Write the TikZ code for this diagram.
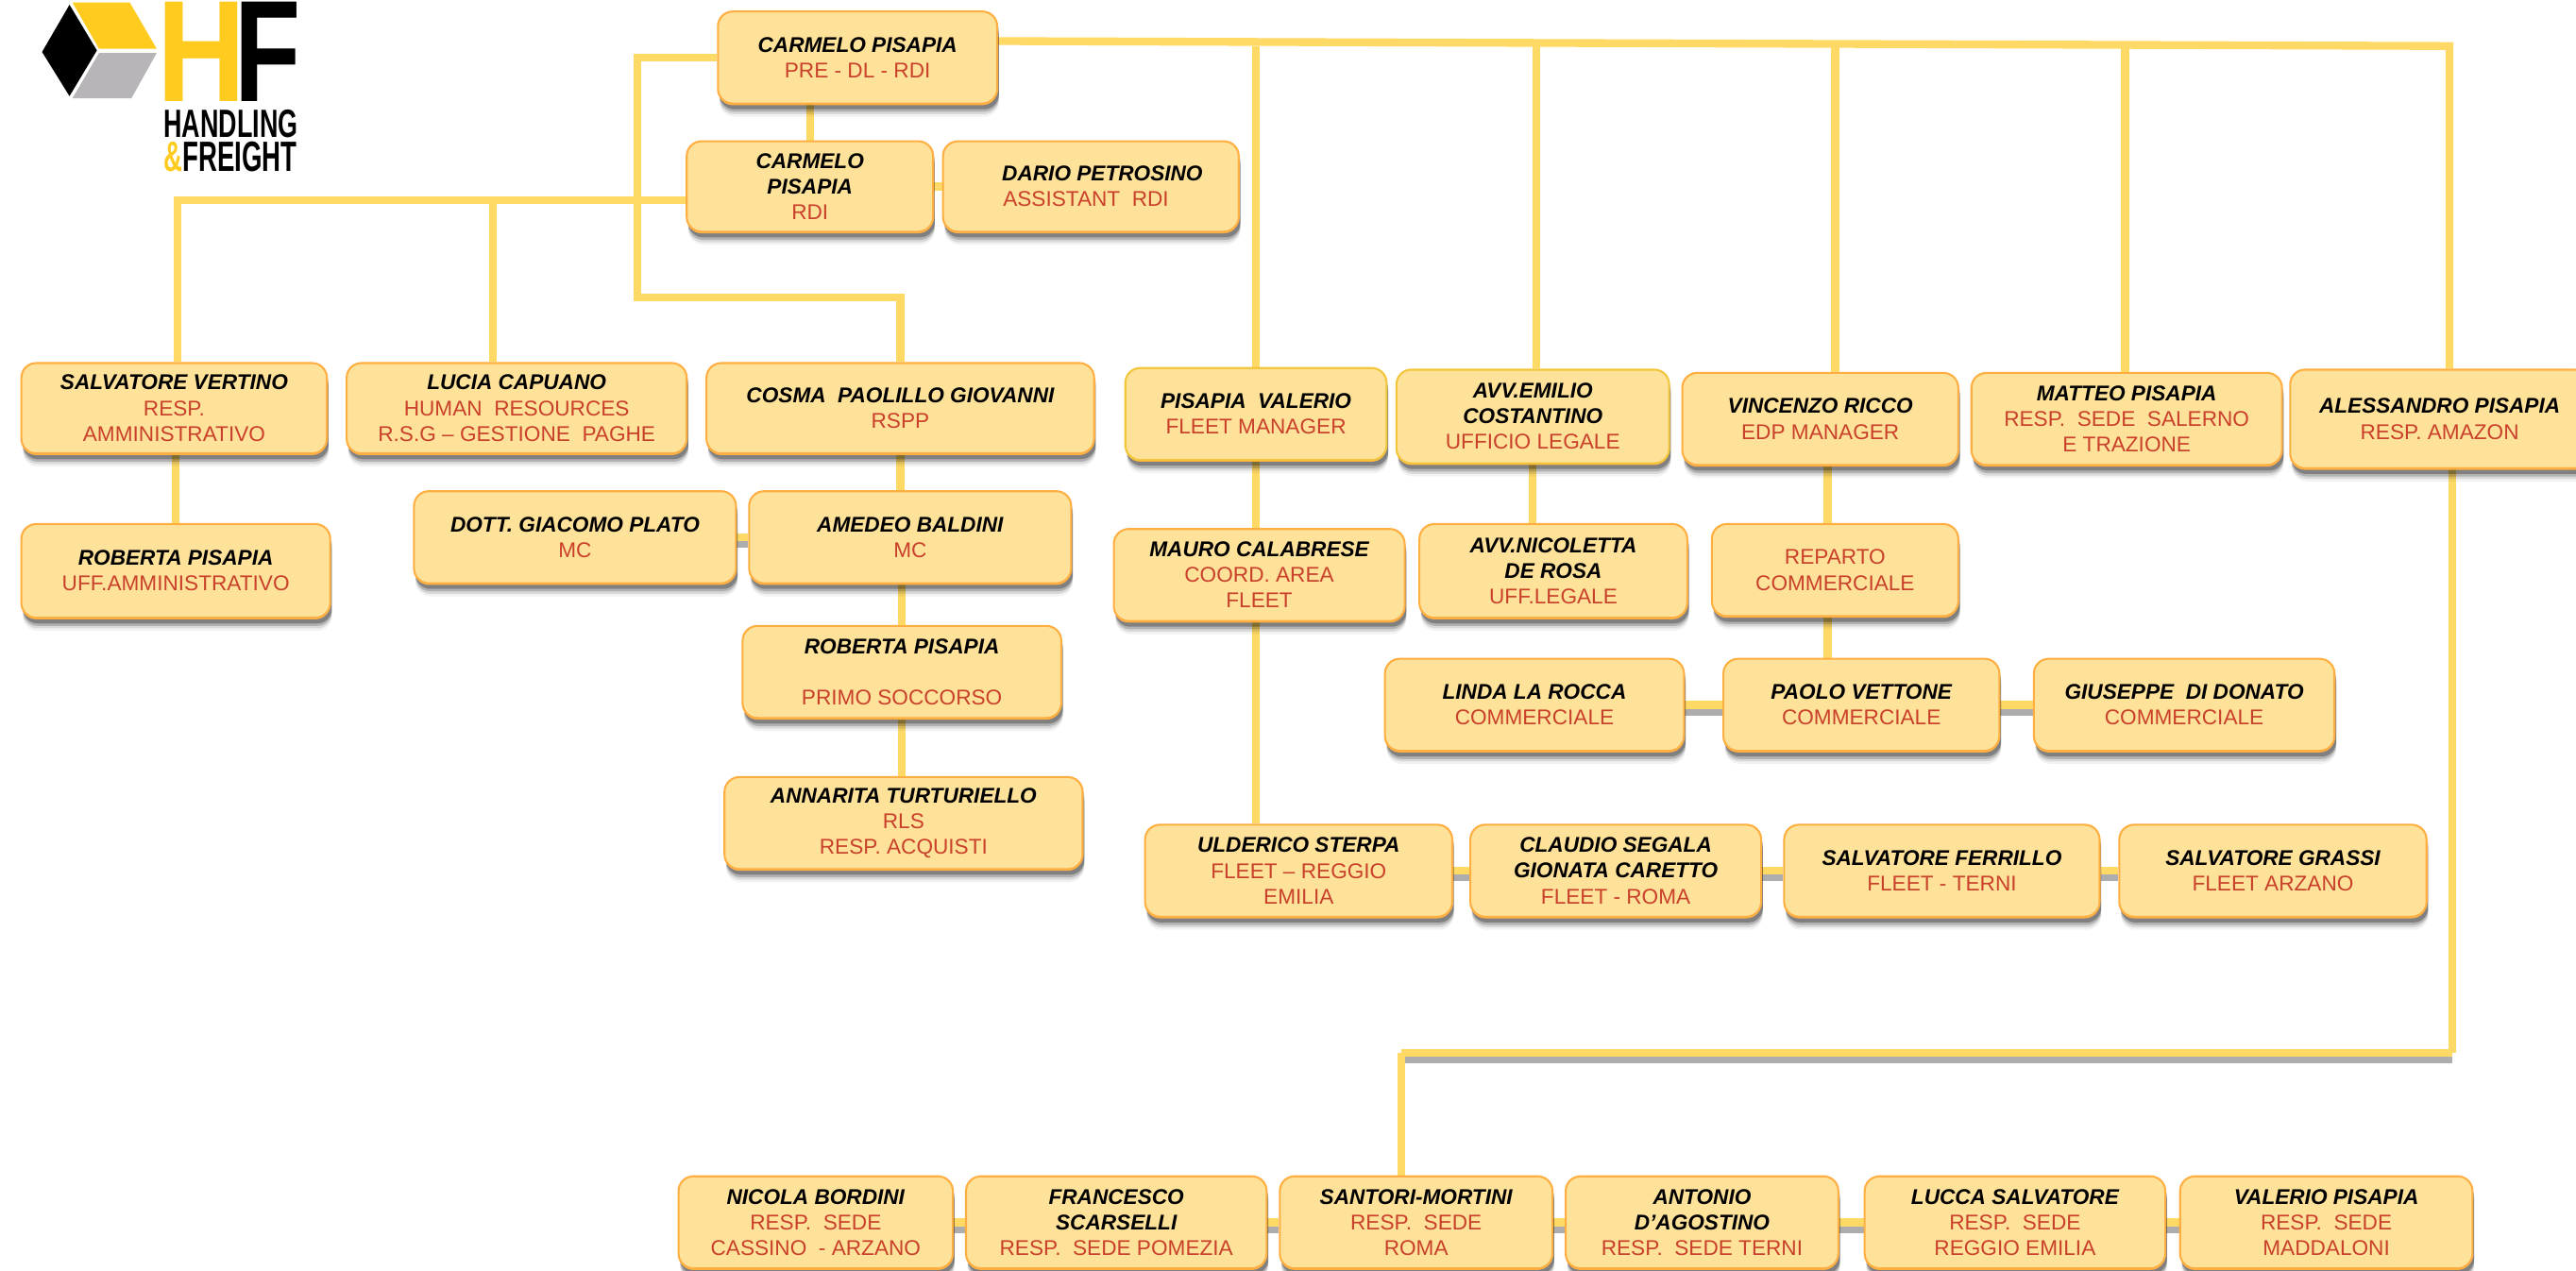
\documentclass[tikz,border=0pt]{standalone}
\usepackage{fontspec}
\usepackage{graphicx}
\setmainfont{Liberation Sans}
\usetikzlibrary{shadows,backgrounds}
\definecolor{boxfill}{HTML}{FFE299}
\definecolor{boxedge}{HTML}{FFAE42}
\definecolor{boxgold}{HTML}{F2C53A}
\definecolor{linkyellow}{HTML}{FFD966}
\definecolor{rolered}{HTML}{C9402B}
\definecolor{logoyellow}{HTML}{FFCB1F}
\definecolor{logogray}{HTML}{B7B5B8}
\newcommand{\who}[1]{{\bfseries\itshape\color{black}#1}}
\tikzset{
  staff/.style={rectangle, rounded corners=9pt, draw=boxedge, line width=1.2pt, fill=boxfill,
    text=rolered, align=center, inner sep=0pt, font=\fontsize{13}{15.6}\selectfont,
    drop shadow={shadow xshift=1pt, shadow yshift=-8pt, fill=black, opacity=0.05},
    drop shadow={shadow xshift=1pt, shadow yshift=-6.5pt, fill=black, opacity=0.10},
    drop shadow={shadow xshift=1pt, shadow yshift=-5pt, fill=black, opacity=0.18},
    drop shadow={shadow xshift=1pt, shadow yshift=-3.5pt, fill=black, opacity=0.28},
    drop shadow={shadow xshift=0pt, shadow yshift=-1pt, fill=boxedge, opacity=1}},
  link/.style={draw=linkyellow, line width=4.8pt},
  linkunder/.style={draw=black!32, line width=4.8pt, transform canvas={yshift=-4pt}},
  logotext/.style={anchor=west, inner sep=0pt}
}
\begin{document}
\begin{tikzpicture}[x=1pt, y=-1pt]
  \useasboundingbox (0,0) rectangle (1568,773.65);

  % The logo
  \fill [black] (25.6,31.6) -- (42.3,2.9) -- (59,30.7) -- (42.3,58.5) -- cycle;
  \fill [logoyellow] (44.1,1.5) -- (79,1.5) -- (95.4,29.7) -- (60.3,29.7) -- cycle;
  \fill [logogray] (60.3,32.2) -- (95.4,32.2) -- (80,59.8) -- (44.1,59.8) -- cycle;
  \node [logotext, text=logoyellow] (logoh) at (95.6,31.4)
    {\scalebox{0.85}[1]{\fontsize{88}{88}\selectfont\bfseries H}};
  \node [logotext] (logof) at (142.6,31.4)
    {\scalebox{0.75}[1]{\fontsize{88}{88}\selectfont\bfseries F}};
  \node [logotext] (logohand) at (99.5,75.6)
    {\scalebox{0.645}[1]{\fontsize{24}{24}\selectfont\bfseries HANDLING}};
  \node [logotext] (logofreight) at (99.5,95.2)
    {\scalebox{0.615}[1]{\fontsize{25.8}{25.8}\selectfont\bfseries\textcolor{logoyellow}{\&}FREIGHT}};

  % All the boxes: name/centre x/centre y/width/height/text
  \foreach \nam/\cx/\cy/\bw/\bh/\lab in {
    cpone/522/35/170/56/{\who{CARMELO PISAPIA}\\PRE - DL - RDI},
    cptwo/493/113.5/150/55/{\who{CARMELO}\\\who{PISAPIA}\\RDI},
    dario/664/113.5/180/55/{\hspace*{14pt}\who{DARIO PETROSINO}\\\hspace*{-6pt}ASSISTANT~~RDI},
    vertino/106/248.5/186/55/{\who{SALVATORE VERTINO}\\RESP.\\AMMINISTRATIVO},
    capuano/314.5/248.5/207/55/{\who{LUCIA CAPUANO}\\HUMAN~~RESOURCES\\R.S.G – GESTIONE~~PAGHE},
    cosma/548/248.5/236/55/{\who{COSMA~~PAOLILLO GIOVANNI}\\RSPP},
    vincenzo/1108/255/168/56/{\who{VINCENZO RICCO}\\EDP MANAGER},
    matteo/1294.5/255/189/56/{\who{MATTEO PISAPIA}\\RESP.~~SEDE~~SALERNO\\E TRAZIONE},
    amazon/1485/255/182/60/{\who{ALESSANDRO PISAPIA}\\RESP. AMAZON},
    robamm/107/347.5/188/57/{\who{ROBERTA PISAPIA}\\UFF.AMMINISTRATIVO},
    plato/350/327/196/56/{\who{DOTT. GIACOMO PLATO}\\MC},
    baldini/554/327/196/56/{\who{AMEDEO BALDINI}\\MC},
    robsoc/549/409/194/56/{\who{ROBERTA PISAPIA}\\~\\PRIMO SOCCORSO},
    turtur/550/501/218/56/{\who{ANNARITA TURTURIELLO}\\RLS\\RESP. ACQUISTI},
    mauro/766.5/350/177/56/{\who{MAURO CALABRESE}\\COORD. AREA\\FLEET},
    derosa/945.5/347.5/163/57/{\who{AVV.NICOLETTA}\\\who{DE ROSA}\\UFF.LEGALE},
    reparto/1117/347/150/56/{REPARTO\\COMMERCIALE},
    rocca/934/429/182/56/{\who{LINDA LA ROCCA}\\COMMERCIALE},
    vettone/1133/429/168/56/{\who{PAOLO VETTONE}\\COMMERCIALE},
    donato/1329.5/429/183/56/{\who{GIUSEPPE~~DI DONATO}\\COMMERCIALE},
    sterpa/790.5/530/187/56/{\who{ULDERICO STERPA}\\FLEET – REGGIO\\EMILIA},
    segala/983.5/530/177/56/{\who{CLAUDIO SEGALA}\\\who{GIONATA CARETTO}\\FLEET - ROMA},
    ferrillo/1182/530/192/56/{\who{SALVATORE FERRILLO}\\FLEET - TERNI},
    grassi/1383.5/530/187/56/{\who{SALVATORE GRASSI}\\FLEET ARZANO},
    bordini/496.5/744/167/56/{\who{NICOLA BORDINI}\\RESP.~~SEDE\\CASSINO~~- ARZANO},
    scarselli/679.5/744/183/56/{\who{FRANCESCO}\\\who{SCARSELLI}\\RESP.~~SEDE POMEZIA},
    santori/862/744/166/56/{\who{SANTORI-MORTINI}\\RESP.~~SEDE\\ROMA},
    agostino/1036/744/166/56/{\who{ANTONIO}\\\who{D'AGOSTINO}\\RESP.~~SEDE TERNI},
    lucca/1226.5/744/183/56/{\who{LUCCA SALVATORE}\\RESP.~~SEDE\\REGGIO EMILIA},
    valerio/1416/744/178/56/{\who{VALERIO PISAPIA}\\RESP.~~SEDE\\MADDALONI}} {
    \node [staff, minimum width=\bw pt, minimum height=\bh pt] (\nam) at (\cx,\cy) {\lab};
  }
  % These two have a darker edge
  \node [staff, draw=boxgold, minimum width=159pt, minimum height=56pt] (fleet) at (764.5,252)
    {\who{PISAPIA~~VALERIO}\\FLEET MANAGER};
  \node [staff, draw=boxgold, minimum width=166pt, minimum height=57pt] (legale) at (933,253.5)
    {\who{AVV.EMILIO}\\\who{COSTANTINO}\\UFFICIO LEGALE};

  % Where the long lines turn
  \coordinate (topright) at (1491,28);
  \coordinate (rsppbend) at (388,181);
  \coordinate (adminbus) at ([yshift=-8.5pt]cptwo.west);
  \coordinate (amazonbus) at (1492.5,641);
  \coordinate (edpdrop) at ([xshift=4.5pt]vincenzo.south);

  \begin{scope}[on background layer]
    % The line along the top and what hangs from it
    \draw [link] ([yshift=10pt]cpone.east) -- (topright) -- (topright |- amazon.north);
    \foreach \kid/\dx in {fleet/0, legale/2, vincenzo/9, matteo/-1} {
      \draw [link] ([xshift=\dx pt]\kid.north) -- ([xshift=\dx pt]\kid.north |- topright);
    }
    \draw [link] (cpone.west) -| (rsppbend) -| (cosma.north);
    \draw [link] (cptwo.north) -- (cptwo.north |- cpone.south);
    \draw [link] (adminbus) -| ([xshift=2pt]vertino.north);
    \draw [link] ([xshift=-14.5pt]capuano.north) -- ([xshift=-14.5pt]capuano.north |- adminbus);

    % Down the columns
    \draw [link] (robamm.north) -- (robamm.north |- vertino.south);
    \draw [link] (cosma.south) -- (cosma.south |- baldini.north);
    \draw [link] (robsoc.north) -- (robsoc.north |- baldini.south);
    \draw [link] (robsoc.south) -- (robsoc.south |- turtur.north);
    \draw [link] (fleet.south) -- (fleet.south |- mauro.north);
    \draw [link] (mauro.south -| fleet.south) -- (sterpa.north -| fleet.south);
    \draw [link] (legale.south) -- (legale.south |- derosa.north);
    \draw [link] (edpdrop) -- (edpdrop |- reparto.north);
    \draw [link] (edpdrop |- reparto.south) -- (edpdrop |- vettone.north);

    % Side by side
    \draw [link] (cptwo.east) -- (dario.west);
    \foreach \lft/\rgt in {plato/baldini, rocca/vettone, vettone/donato, sterpa/segala,
      segala/ferrillo, ferrillo/grassi, bordini/scarselli, scarselli/santori,
      santori/agostino, agostino/lucca, lucca/valerio} {
      \draw [linkunder] (\lft.east) -- (\rgt.west);
      \draw [link] (\lft.east) -- (\rgt.west);
    }

    % From the amazon box to the bottom row
    \draw [link] ([xshift=7.5pt]amazon.south) -- (amazonbus);
    \draw [linkunder] (amazonbus) -- ([xshift=-9pt]santori.north |- amazonbus);
    \draw [link] (amazonbus) -- ([xshift=-9pt]santori.north |- amazonbus);
    \draw [link] ([xshift=-9pt]santori.north |- amazonbus) -- ([xshift=-9pt]santori.north);
  \end{scope}
\end{tikzpicture}
\end{document}
